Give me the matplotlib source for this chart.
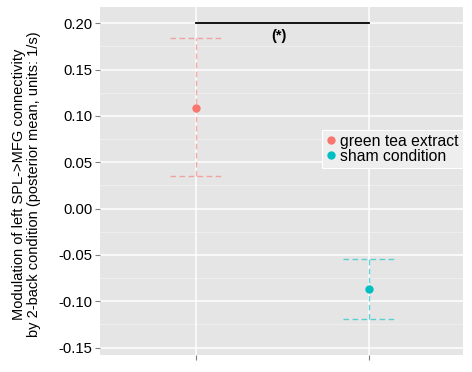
import matplotlib
matplotlib.use("Agg")
import matplotlib.pyplot as plt
import numpy as np

plt.rcParams['font.family'] = ['Liberation Sans', 'DejaVu Sans']

# data
groups = ["green tea extract", "sham condition"]
xpos = np.array([1, 2])
means = np.array([0.109, -0.087])
upper = np.array([0.184, -0.054])
lower = np.array([0.035, -0.119])
colors = ["#F8766D", "#00BFC4"]
sig_y = 0.200
sig_label = "(*)"
yticks = [-0.15, -0.10, -0.05, 0.00, 0.05, 0.10, 0.15, 0.20]
ytick_labels = ["-0.15", "-0.10", "-0.05", "0.00", "0.05", "0.10", "0.15", "0.20"]

fig = plt.figure(figsize=(4.72, 3.72), dpi=100)
ax = fig.add_axes([100/472, 1 - 355/372, 363/472, 348/372])
ax.set_facecolor("#E5E5E5")

# grid
for y in np.arange(-0.175, 0.22, 0.05):
    ax.axhline(y, color="#F0F0F0", lw=0.6, zorder=0)
for y in yticks:
    ax.axhline(y, color="white", lw=1.1, zorder=0)
for x in xpos:
    ax.axvline(x, color="white", lw=1.1, zorder=0)

dash = (0, (4, 2.5))
for i in range(2):
    ax.vlines(xpos[i], lower[i], upper[i], colors=colors[i], alpha=0.6,
              lw=1.0, linestyles=[dash], zorder=2)
    ax.hlines([lower[i], upper[i]], xpos[i] - 0.15, xpos[i] + 0.15,
              colors=colors[i], alpha=0.6, lw=1.0, linestyles=[dash], zorder=2)
    ax.plot(xpos[i], means[i], "o", color=colors[i], ms=6, mec="none",
            label=groups[i], zorder=3)

ax.plot([xpos[0], xpos[1]], [sig_y, sig_y], color="black", lw=1.3, zorder=3)
ax.text(1.48, 0.186, sig_label, ha="center", va="center", fontsize=10.5,
        fontweight="bold")

ax.set_xlim(0.447, 2.545)
ax.set_ylim(-0.158, 0.2176)
ax.set_xticks(xpos)
ax.set_xticklabels([])
ax.set_yticks(yticks)
ax.set_yticklabels(ytick_labels)
ax.tick_params(axis="both", length=3.5, color="#7F7F7F", width=0.8,
               labelsize=10.7, pad=2)
for s in ax.spines.values():
    s.set_visible(False)

ax.set_ylabel("Modulation of left SPL->MFG connectivity\n"
              "by 2-back condition (posterior mean, units: 1/s)",
              fontsize=10.5, linespacing=1.1)
ax.yaxis.set_label_coords(-0.163, 0.49)

leg = ax.legend(loc="center", bbox_to_anchor=(0.806, 0.593), fontsize=11.3,
                frameon=True, facecolor="#EEEEEE", edgecolor="white",
                framealpha=1, fancybox=False, labelspacing=0.0,
                handlelength=0.6, handletextpad=0.3, borderpad=0.25,
                borderaxespad=0)
leg.get_frame().set_linewidth(0.8)

fig.savefig("out.png", dpi=100)
